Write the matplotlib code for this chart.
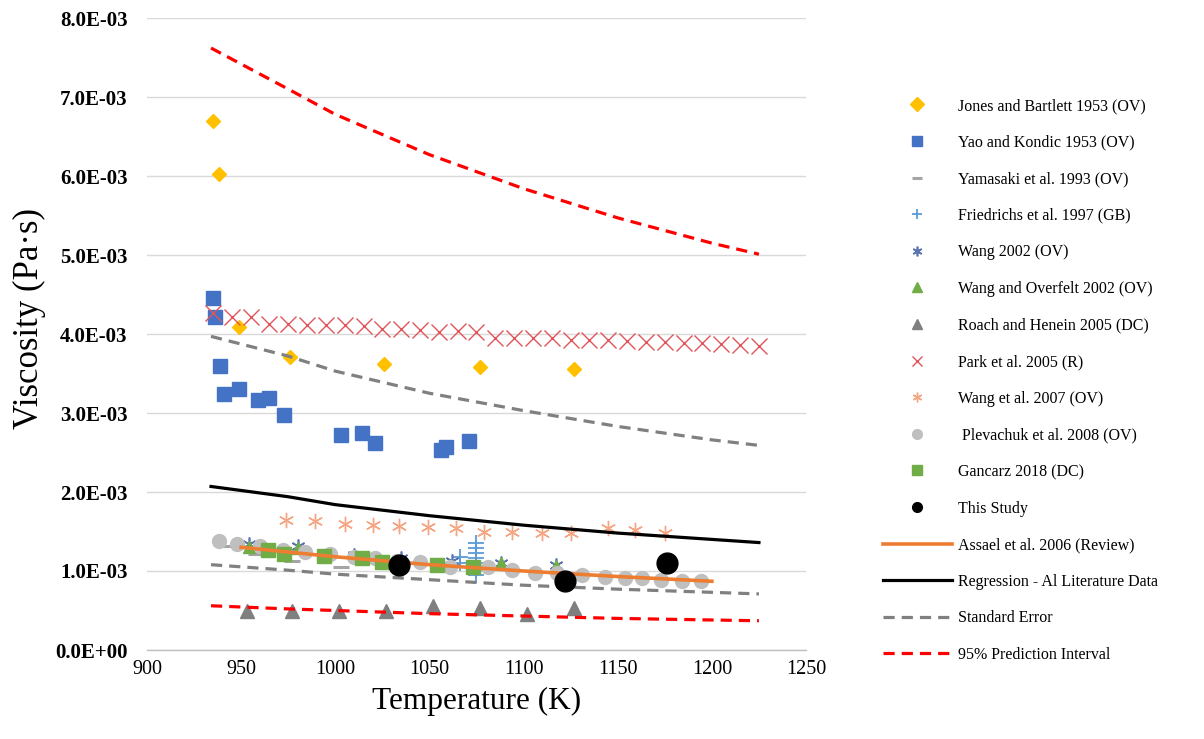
import matplotlib
matplotlib.use('Agg')
import matplotlib.pyplot as plt
from matplotlib.ticker import FuncFormatter, MultipleLocator

plt.rcParams['font.family'] = ['Liberation Serif', 'DejaVu Serif']

# ---- data (T in K, viscosity in mPa s; scaled to Pa s when plotted) ----
jones_t = [935, 938, 949, 976, 1026, 1077, 1127]
jones_v = [6.70, 6.03, 4.09, 3.71, 3.62, 3.58, 3.56]

yao_t = [935, 936, 939, 941, 949, 959, 965, 973, 1003, 1014, 1021, 1056, 1059, 1071]
yao_v = [4.45, 4.21, 3.59, 3.24, 3.31, 3.16, 3.19, 2.97, 2.72, 2.75, 2.62, 2.53, 2.57, 2.65]

yamasaki_t = [942, 958, 977, 1003]
yamasaki_v = [1.32, 1.22, 1.13, 1.05]

friedrichs_t = [1066, 1066, 1075, 1075, 1075, 1075, 1075, 1075, 1075]
friedrichs_v = [1.18, 1.10, 1.35, 1.29, 1.23, 1.16, 1.10, 1.01, 0.95]

wang02_t = [954, 980, 1010, 1035, 1062, 1088, 1117]
wang02_v = [1.34, 1.32, 1.20, 1.16, 1.13, 1.10, 1.08]

overfelt_t = [954, 980, 1035, 1088, 1117]
overfelt_v = [1.31, 1.29, 1.13, 1.10, 1.06]

roach_t = [953, 977, 1002, 1027, 1052, 1077, 1102, 1127]
roach_v = [0.49, 0.49, 0.49, 0.50, 0.56, 0.53, 0.46, 0.53]

park_t = [935, 945, 955, 965, 975, 985, 995, 1005, 1015, 1025, 1035, 1045, 1055, 1065,
          1075, 1085, 1095, 1105, 1115, 1125, 1135, 1145, 1155, 1165, 1175, 1185, 1195,
          1205, 1215, 1225]
park_v = [4.27, 4.22, 4.22, 4.13, 4.13, 4.12, 4.12, 4.11, 4.10, 4.06, 4.06, 4.05, 4.02, 4.04,
          4.03, 3.95, 3.95, 3.95, 3.95, 3.93, 3.93, 3.92, 3.91, 3.90, 3.90, 3.89, 3.88,
          3.87, 3.86, 3.85]

wang07_t = [974, 989, 1005, 1020, 1034, 1049, 1064, 1079, 1094, 1110, 1125, 1145, 1159, 1175]
wang07_v = [1.65, 1.63, 1.60, 1.58, 1.57, 1.56, 1.54, 1.50, 1.49, 1.48, 1.48, 1.54, 1.52, 1.48]

plev_t = [938, 948, 960, 972, 984, 997, 1010, 1021, 1033, 1045, 1061, 1081, 1094, 1106,
          1118, 1131, 1143, 1154, 1163, 1173, 1184, 1194]
plev_v = [1.38, 1.34, 1.32, 1.27, 1.24, 1.22, 1.18, 1.16, 1.13, 1.12, 1.05, 1.05, 1.01, 0.97,
          0.97, 0.95, 0.93, 0.91, 0.91, 0.89, 0.87, 0.87]

gancarz_t = [964, 973, 994, 1014, 1025, 1054, 1073]
gancarz_v = [1.27, 1.21, 1.19, 1.16, 1.12, 1.07, 1.05]

study_t = [1034, 1122, 1176]
study_v = [1.08, 0.87, 1.10]

assael_t = [950, 1000, 1050, 1100, 1150, 1200]
assael_v = [1.30, 1.18, 1.08, 1.00, 0.93, 0.87]

fit_t = [934, 975, 1000, 1050, 1100, 1150, 1200, 1225]
reg_v = [2.07, 1.94, 1.84, 1.70, 1.58, 1.48, 1.40, 1.36]
se_hi = [3.97, 3.72, 3.53, 3.25, 3.03, 2.83, 2.66, 2.59]
se_lo = [1.08, 1.01, 0.96, 0.89, 0.82, 0.77, 0.73, 0.71]
pi_hi = [7.62, 7.10, 6.78, 6.27, 5.84, 5.47, 5.15, 5.01]
pi_lo = [0.56, 0.52, 0.50, 0.46, 0.43, 0.40, 0.38, 0.37]


def pas(vals):
    return [v * 1e-3 for v in vals]


fig = plt.figure(figsize=(12.04, 7.39), dpi=100)
ax = fig.add_axes([147 / 1204, 1 - 650 / 739, 659 / 1204, 632 / 739])

ax.plot(jones_t, pas(jones_v), 'D', color='#FFC000', ms=7, ls='none',
        label='Jones and Bartlett 1953 (OV)', zorder=3)
ax.plot(yao_t, pas(yao_v), 's', color='#4472C4', ms=10, ls='none',
        label='Yao and Kondic 1953 (OV)', zorder=3)
ax.plot(yamasaki_t, pas(yamasaki_v), '_', color='#A5A5A5', ms=11, mew=2.2, ls='none',
        label='Yamasaki et al. 1993 (OV)', zorder=3)
ax.plot(friedrichs_t, pas(friedrichs_v), '+', color='#5B9BD5', ms=11, mew=1.3, ls='none',
        label='Friedrichs et al. 1997 (GB)', zorder=3)
ax.plot(wang02_t, pas(wang02_v), marker=(6, 2, 0), color='#5A74B0', ms=10, mew=1.2,
        ls='none', label='Wang 2002 (OV)', zorder=3)
ax.plot(overfelt_t, pas(overfelt_v), '^', color='#70AD47', ms=8, ls='none',
        label='Wang and Overfelt 2002 (OV)', zorder=3)
ax.plot(roach_t, pas(roach_v), '^', color='#7F7F7F', ms=10, ls='none',
        label='Roach and Henein 2005 (DC)', zorder=3)
ax.plot(park_t, pas(park_v), 'x', color='#E0555A', ms=11, mew=1.0, ls='none',
        label='Park et al. 2005 (R)', zorder=3)
ax.plot(wang07_t, pas(wang07_v), marker=(6, 2, 0), color='#F4A582', ms=11, mew=1.0,
        ls='none', label='Wang et al. 2007 (OV)', zorder=3)
ax.plot(plev_t, pas(plev_v), 'o', color='#BFBFBF', ms=10, ls='none',
        label=' Plevachuk et al. 2008 (OV)', zorder=3)
ax.plot(gancarz_t, pas(gancarz_v), 's', color='#70AD47', ms=10, ls='none',
        label='Gancarz 2018 (DC)', zorder=3)
ax.plot(study_t, pas(study_v), 'o', color='black', ms=15, ls='none',
        label='This Study', zorder=5)
ax.plot(assael_t, pas(assael_v), '-', color='#ED7D31', lw=2.6,
        label='Assael et al. 2006 (Review)', zorder=4)
ax.plot(fit_t, pas(reg_v), '-', color='black', lw=2.3,
        label='Regression - Al Literature Data', zorder=4)
ax.plot(fit_t, pas(se_hi), '--', color='#808080', lw=2.3, dashes=(3.5, 2.2),
        label='Standard Error', zorder=4)
ax.plot(fit_t, pas(se_lo), '--', color='#808080', lw=2.3, dashes=(3.5, 2.2),
        label='_nolegend_', zorder=4)
ax.plot(fit_t, pas(pi_hi), '--', color='#FF0000', lw=2.3, dashes=(3.5, 2.2),
        label='95% Prediction Interval', zorder=4)
ax.plot(fit_t, pas(pi_lo), '--', color='#FF0000', lw=2.3, dashes=(3.5, 2.2),
        label='_nolegend_', zorder=4)

# axes styling
ax.set_xlim(900, 1250)
ax.set_ylim(0, 8e-3)
ax.xaxis.set_major_locator(MultipleLocator(50))
ax.yaxis.set_major_locator(MultipleLocator(1e-3))
ax.yaxis.set_major_formatter(FuncFormatter(lambda v, p: f'{v:.1E}'))
ax.grid(axis='y', color='#D9D9D9', lw=1.0)
ax.set_axisbelow(True)
for side in ['top', 'right', 'left']:
    ax.spines[side].set_visible(False)
ax.spines['bottom'].set_color('#BFBFBF')
ax.spines['bottom'].set_linewidth(1.0)
ax.tick_params(axis='x', length=0, labelsize=14.5, pad=7)
ax.tick_params(axis='y', length=0, labelsize=15, pad=14)
for lbl in ax.get_yticklabels():
    lbl.set_fontweight('bold')

ax.set_xlabel('Temperature (K)', fontsize=22.5, labelpad=6)
ax.set_ylabel('Viscosity (Pa·s)', fontsize=25)
ax.yaxis.set_label_coords(-0.153, 0.525)

leg = fig.legend(loc='upper left', bbox_to_anchor=(883 / 1204, 1 - 98 / 739),
                 frameon=False, fontsize=11.5, handlelength=4.3, handletextpad=0.4,
                 labelspacing=1.29, borderpad=0, borderaxespad=0)
for h in leg.legend_handles:
    h.set_markersize(7)

fig.savefig('out.png', dpi=100)
